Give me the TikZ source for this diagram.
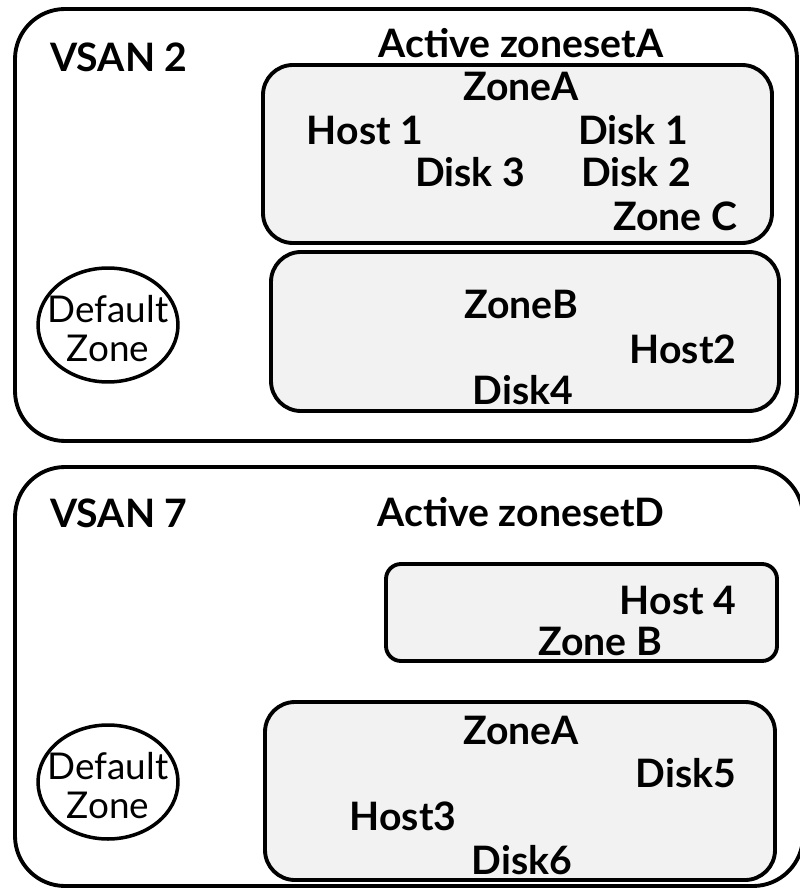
\documentclass[tikz,border=0pt]{standalone}
\usepackage{fontspec}
\setmainfont{Lato}
\tikzset{
  vsanbox/.style={draw, line width=2.2pt, rounded corners=1cm},
  zonebox/.style={draw, line width=2.2pt, fill=black!5},
  lbl/.style={font=\fontsize{22.3}{26}\selectfont\bfseries, inner sep=0pt},
  defzone/.style={draw, ellipse, line width=2pt, minimum width=2.8cm, minimum height=2.28cm, inner sep=0pt},
  deftext/.style={align=center, inner sep=0pt, font=\fontsize{21}{23}\selectfont}
}
\usetikzlibrary{shapes.geometric}
\begin{document}
\begin{tikzpicture}[x=0.02cm, y=-0.02cm, line join=round, line cap=round]
\useasboundingbox (0,0) rectangle (800,888);
% VSAN 2
\draw[vsanbox] (15,9) rectangle (797,441);
\draw[zonebox, rounded corners=0.6cm] (263,65) rectangle (772,243);
\draw[zonebox, rounded corners=0.6cm] (271,252) rectangle (779,411);
\node[defzone] (dz2) at (108,325) {};
\node[deftext] (dz2t) at ([yshift=-2pt]dz2.center) {Default\\[-1pt]Zone};
\node[lbl, anchor=west] (vsan2) at (50,57) {VSAN 2};
\node[lbl] (zsA) at (521,43) {Active zonesetA};
\node[lbl] (zA) at (521,86) {ZoneA};
\node[lbl] (h1) at (365,130) {Host 1};
\node[lbl] (d1) at (633,130) {Disk 1};
\node[lbl] (d3) at (470,172) {Disk 3};
\node[lbl] (d2) at (636,172) {Disk 2};
\node[lbl] (zC) at (675,216) {Zone C};
\node[lbl] (zB) at (521,304) {ZoneB};
\node[lbl] (h2) at (683,349) {Host2};
\node[lbl] (d4) at (523,390) {Disk4};
% VSAN 7
\draw[vsanbox] (15,467) rectangle (803,886);
\draw[zonebox, rounded corners=0.3cm] (386,564) rectangle (777,661);
\draw[zonebox, rounded corners=0.6cm] (265,702) rectangle (775,880);
\node[defzone] (dz7) at (108,782) {};
\node[deftext] (dz7t) at ([yshift=-2pt]dz7.center) {Default\\[-1pt]Zone};
\node[lbl, anchor=west] (vsan7) at (50,513) {VSAN 7};
\node[lbl] (zsD) at (521,512) {Active zonesetD};
\node[lbl] (h4) at (678,600) {Host 4};
\node[lbl] (zB7) at (600,641) {Zone B};
\node[lbl] (zA7) at (521,730) {ZoneA};
\node[lbl] (d5) at (686,773) {Disk5};
\node[lbl] (h3) at (403,816) {Host3};
\node[lbl] (d6) at (522,860) {Disk6};
\end{tikzpicture}
\end{document}
